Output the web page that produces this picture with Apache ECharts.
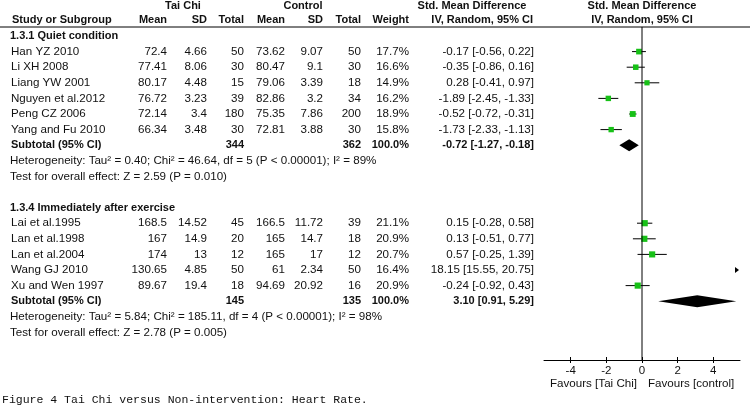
<!DOCTYPE html>
<html>
<head>
<meta charset="utf-8">
<script src="https://cdn.jsdelivr.net/npm/echarts@6/dist/echarts.min.js"></script>
<style>
  html, body { margin: 0; padding: 0; background: #fff; }
  #forest { width: 750px; height: 417px; }
</style>
</head>
<body>
<div id="forest"></div>
<script>
// study rows (row index in the table, both subgroups)
var studyNames = ['Han YZ 2010', 'Li XH 2008', 'Liang YW 2001', 'Nguyen et al.2012', 'Peng CZ 2006', 'Yang and Fu 2010',
                  'Lai et al.1995', 'Lan et al.1998', 'Lan et al.2004', 'Wang GJ 2010', 'Xu and Wen 1997'];
var studyRows  = [1, 2, 3, 4, 5, 6, 12, 13, 14, 15, 16];
var taiMean    = ['72.4', '77.41', '80.17', '76.72', '72.14', '66.34', '168.5', '167', '174', '130.65', '89.67'];
var taiSD      = ['4.66', '8.06', '4.48', '3.23', '3.4', '3.48', '14.52', '14.9', '13', '4.85', '19.4'];
var taiTotal   = [50, 30, 15, 39, 180, 30, 45, 20, 12, 50, 18];
var ctlMean    = ['73.62', '80.47', '79.06', '82.86', '75.35', '72.81', '166.5', '165', '165', '61', '94.69'];
var ctlSD      = ['9.07', '9.1', '3.39', '3.2', '7.86', '3.88', '11.72', '14.7', '17', '2.34', '20.92'];
var ctlTotal   = [50, 30, 18, 34, 200, 30, 39, 18, 12, 50, 16];
var weights    = [17.7, 16.6, 14.9, 16.2, 18.9, 15.8, 21.1, 20.9, 20.7, 16.4, 20.9];
var smd        = [-0.17, -0.35, 0.28, -1.89, -0.52, -1.73, 0.15, 0.13, 0.57, 18.15, -0.24];
var ciLow      = [-0.56, -0.86, -0.41, -2.45, -0.72, -2.33, -0.28, -0.51, -0.25, 15.55, -0.92];
var ciHigh     = [0.22, 0.16, 0.97, -1.33, -0.31, -1.13, 0.58, 0.77, 1.39, 20.75, 0.43];

// subgroups
var groupTitles = ['1.3.1 Quiet condition', '1.3.4 Immediately after exercise'];
var groupRows   = [0, 11];
var subRows     = [7, 17];
var subTai      = [344, 145];
var subCtl      = [362, 135];
var subEst      = [-0.72, 3.10];
var subLow      = [-1.27, 0.91];
var subHigh     = [-0.18, 5.29];
var hetText     = ['Heterogeneity: Tau\u00b2 = 0.40; Chi\u00b2 = 46.64, df = 5 (P < 0.00001); I\u00b2 = 89%',
                   'Heterogeneity: Tau\u00b2 = 5.84; Chi\u00b2 = 185.11, df = 4 (P < 0.00001); I\u00b2 = 98%'];
var testText    = ['Test for overall effect: Z = 2.59 (P = 0.010)',
                   'Test for overall effect: Z = 2.78 (P = 0.005)'];

var xTicks = [-4, -2, 0, 2, 4];
var xMin = -5.5, xMax = 5.5;

var chart = echarts.init(document.getElementById('forest'));

var studyData = [];
for (var i = 0; i < studyRows.length; i++) {
    studyData.push([studyRows[i], smd[i], ciLow[i], ciHigh[i], weights[i]]);
}
var diamondData = [];
for (var g = 0; g < subRows.length; g++) {
    diamondData.push([subRows[g], subEst[g], subLow[g], subHigh[g]]);
}

function clampX(v) { return Math.max(xMin, Math.min(xMax, v)); }

option = {
    animation: false,
    grid: { left: 544, right: 10, top: 0, height: 360 },
    xAxis: [
        {
            type: 'value', min: xMin, max: xMax, position: 'bottom',
            splitLine: { show: false },
            axisLine: { onZero: false, lineStyle: { color: '#000', width: 1 } },
            axisTick: { customValues: xTicks, length: 3, lineStyle: { color: '#000' } },
            axisLabel: { customValues: xTicks, color: '#111', fontSize: 11.5, fontFamily: 'Liberation Sans', margin: 5 }
        },
        {
            type: 'value', min: xMin, max: xMax, position: 'bottom',
            splitLine: { show: false },
            axisLine: { show: false, onZero: false },
            axisTick: { customValues: xTicks, inside: true, length: 3, lineStyle: { color: '#000' } },
            axisLabel: { show: false }
        }
    ],
    yAxis: { type: 'value', inverse: true, min: -2.3077, max: 20.769, show: false },
    series: [
        {
            // line of no effect
            type: 'line',
            data: [[0, -0.58], [0, 20.769]],
            symbol: 'none',
            lineStyle: { color: '#000', width: 1 },
            silent: true
        },
        {
            type: 'custom',
            data: studyData,
            encode: { x: 1, y: 0 },
            clip: false,
            renderItem: function (params, api) {
                var r = api.value(0), est = api.value(1), lo = api.value(2), hi = api.value(3), w = api.value(4);
                var y = api.coord([0, r])[1];
                if (lo > xMax) {
                    var xe = api.coord([xMax, r])[0] - 1;
                    return { type: 'polygon', shape: { points: [[xe, y], [xe - 4, y - 3], [xe - 4, y + 3]] },
                             style: { fill: '#000' } };
                }
                var x1 = api.coord([clampX(lo), r])[0], x2 = api.coord([clampX(hi), r])[0];
                var xc = api.coord([est, r])[0];
                var s = Math.sqrt(w) * 1.35;
                return {
                    type: 'group',
                    children: [
                        { type: 'line', shape: { x1: x1, y1: y, x2: x2, y2: y }, style: { stroke: '#000', lineWidth: 1 } },
                        { type: 'rect', shape: { x: xc - s / 2, y: y - s / 2, width: s, height: s }, style: { fill: '#17c117' } }
                    ]
                };
            }
        },
        {
            type: 'custom',
            data: diamondData,
            encode: { x: 1, y: 0 },
            renderItem: function (params, api) {
                var r = api.value(0);
                var pc = api.coord([api.value(1), r]);
                var pl = api.coord([api.value(2), r]);
                var ph = api.coord([api.value(3), r]);
                var h = 6;
                return { type: 'polygon',
                         shape: { points: [[pl[0], pc[1]], [pc[0], pc[1] - h], [ph[0], pc[1]], [pc[0], pc[1] + h]] },
                         style: { fill: '#000' } };
            }
        }
    ]
};
chart.setOption(option);

// table text, placed on the same row scale as the plot
function rowY(r) { return chart.convertToPixel({ yAxisIndex: 0 }, r); }
var REG = '11.6px "Liberation Sans", Arial, sans-serif';
var BOLD = 'bold 11px "Liberation Sans", Arial, sans-serif';
var texts = [];
function txt(s, x, y, align, font) {
    texts.push({ type: 'text', x: x, y: y, silent: true,
                 style: { text: String(s), font: font || REG, fill: '#111', textAlign: align || 'left', textVerticalAlign: 'middle', verticalAlign: 'middle' } });
}
var colX = { mean1: 167, sd1: 207, tot1: 244, mean2: 285, sd2: 323, tot2: 361, weight: 409, ci: 534 };

// headers
var h1 = rowY(-2), h2 = rowY(-1);
txt('Tai Chi', 183, h1 + 1, 'center', BOLD);
txt('Control', 303, h1 + 1, 'center', BOLD);
txt('Std. Mean Difference', 472, h1 + 1, 'center', BOLD);
txt('Std. Mean Difference', 642, h1 + 1, 'center', BOLD);
txt('Study or Subgroup', 12, h2, 'left', BOLD);
txt('Mean', colX.mean1, h2, 'right', BOLD);
txt('SD', colX.sd1, h2, 'right', BOLD);
txt('Total', colX.tot1, h2, 'right', BOLD);
txt('Mean', colX.mean2, h2, 'right', BOLD);
txt('SD', colX.sd2, h2, 'right', BOLD);
txt('Total', colX.tot2, h2, 'right', BOLD);
txt('Weight', colX.weight, h2, 'right', BOLD);
txt('IV, Random, 95% CI', 533, h2, 'right', BOLD);
txt('IV, Random, 95% CI', 642, h2, 'center', BOLD);
texts.push({ type: 'line', silent: true, shape: { x1: 0, y1: 27, x2: 750, y2: 27 }, style: { stroke: '#000', lineWidth: 1 } });

for (var i = 0; i < studyRows.length; i++) {
    var y = rowY(studyRows[i]);
    txt(studyNames[i], 11, y);
    txt(taiMean[i], colX.mean1, y, 'right');
    txt(taiSD[i], colX.sd1, y, 'right');
    txt(taiTotal[i], colX.tot1, y, 'right');
    txt(ctlMean[i], colX.mean2, y, 'right');
    txt(ctlSD[i], colX.sd2, y, 'right');
    txt(ctlTotal[i], colX.tot2, y, 'right');
    txt(weights[i].toFixed(1) + '%', colX.weight, y, 'right');
    txt(smd[i].toFixed(2) + ' [' + ciLow[i].toFixed(2) + ', ' + ciHigh[i].toFixed(2) + ']', colX.ci, y, 'right');
}
for (var g = 0; g < groupRows.length; g++) {
    txt(groupTitles[g], 10, rowY(groupRows[g]), 'left', BOLD);
    var ys = rowY(subRows[g]);
    txt('Subtotal (95% CI)', 11, ys, 'left', BOLD);
    txt(subTai[g], colX.tot1, ys, 'right', BOLD);
    txt(subCtl[g], colX.tot2, ys, 'right', BOLD);
    txt('100.0%', colX.weight, ys, 'right', BOLD);
    txt(subEst[g].toFixed(2) + ' [' + subLow[g].toFixed(2) + ', ' + subHigh[g].toFixed(2) + ']', colX.ci, ys, 'right', BOLD);
    txt(hetText[g], 10, rowY(subRows[g] + 1));
    txt(testText[g], 10, rowY(subRows[g] + 2));
}
txt('Favours [Tai Chi]', 637, 384, 'right');
txt('Favours [control]', 648, 384, 'left');
txt('Figure 4 Tai Chi versus Non-intervention: Heart Rate.', 2, 400, 'left', '11.5px "Liberation Mono", monospace');

chart.setOption({ graphic: { elements: texts } });
</script>
</body>
</html>
